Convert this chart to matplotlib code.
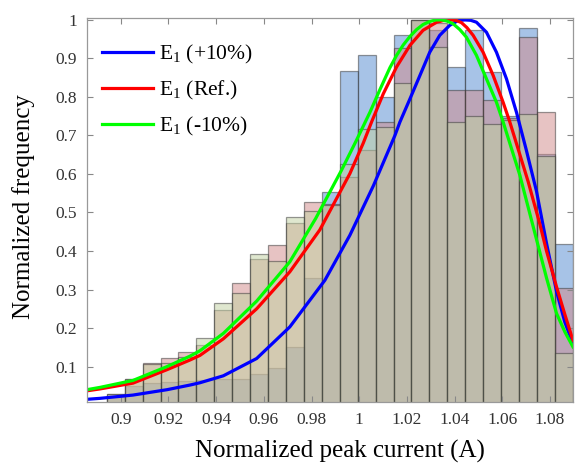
import matplotlib
matplotlib.use("Agg")
import matplotlib.pyplot as plt
import numpy as np

plt.rcParams['font.family'] = ['Liberation Serif', 'DejaVu Serif']
plt.rcParams['mathtext.fontset'] = 'custom'
plt.rcParams['mathtext.rm'] = 'Liberation Serif'

# histogram bins (uniform)
bin_start = 0.8941
bin_width = 0.00752

# normalized histogram heights, one per bin
hist_plus = [0.020, 0.050, 0.058, 0.060, 0.062, 0.064, 0.067, 0.068, 0.080, 0.096,
             0.151, 0.331, 0.552, 0.868, 0.910, 0.800, 0.962, 1.000, 0.974, 0.878,
             0.974, 0.865, 0.750, 0.978, 0.653, 0.418]
hist_ref = [0.030, 0.069, 0.108, 0.121, 0.138, 0.155, 0.246, 0.318, 0.380, 0.415,
            0.473, 0.526, 0.522, 0.591, 0.662, 0.735, 0.926, 1.000, 0.991, 0.818,
            0.818, 0.792, 0.745, 0.955, 0.760, 0.305]
hist_minus = [0.030, 0.067, 0.106, 0.110, 0.125, 0.175, 0.264, 0.290, 0.392, 0.374,
              0.489, 0.503, 0.520, 0.627, 0.718, 0.722, 0.835, 1.000, 0.929, 0.734,
              0.751, 0.731, 0.740, 0.755, 0.647, 0.134]

# fitted curves
plus_x = [0.8858, 0.8913, 0.9051, 0.9194, 0.9290, 0.9332, 0.9430, 0.9570, 0.9709,
          0.9856, 0.9961, 1.0060, 1.0150, 1.0171, 1.0213, 1.0255, 1.0296, 1.0338,
          1.0380, 1.0414, 1.0443, 1.0468, 1.0492, 1.0534, 1.0576, 1.0618, 1.0660,
          1.0700, 1.0744, 1.0786, 1.0828, 1.0863, 1.0897]
plus_y = [0.015, 0.0175, 0.026, 0.040, 0.052, 0.058, 0.076, 0.121, 0.203,
          0.324, 0.441, 0.570, 0.700, 0.735, 0.795, 0.856, 0.916, 0.960,
          0.986, 0.998, 1.000, 0.999, 0.994, 0.968, 0.916, 0.847, 0.760,
          0.665, 0.555, 0.420, 0.295, 0.215, 0.160]
ref_x = [0.8858, 0.8913, 0.9051, 0.9194, 0.9290, 0.9332, 0.9430, 0.9570, 0.9709,
         0.9835, 0.9961, 1.0017, 1.0052, 1.0101, 1.0157, 1.0213, 1.0268, 1.0325,
         1.0351, 1.0380, 1.0405, 1.0429, 1.0452, 1.0478, 1.0520, 1.0562, 1.0604,
         1.0632, 1.0709, 1.0758, 1.0786, 1.0828, 1.0863, 1.0897]
ref_y = [0.037, 0.042, 0.057, 0.092, 0.117, 0.129, 0.172, 0.250, 0.346,
         0.455, 0.601, 0.680, 0.735, 0.808, 0.878, 0.934, 0.973, 0.994,
         0.998, 1.000, 0.999, 0.993, 0.980, 0.960, 0.916, 0.856, 0.786,
         0.735, 0.580, 0.470, 0.400, 0.307, 0.235, 0.168]
minus_x = [0.8858, 0.8913, 0.9051, 0.9194, 0.9290, 0.9332, 0.9430, 0.9570, 0.9709,
           0.9818, 0.9926, 0.9989, 1.0045, 1.0087, 1.0129, 1.0157, 1.0185, 1.0213,
           1.0241, 1.0268, 1.0296, 1.0322, 1.0346, 1.0368, 1.0394, 1.0422, 1.0450,
           1.0492, 1.0534, 1.0576, 1.0604, 1.0674, 1.0744, 1.0786, 1.0828, 1.0863,
           1.0897]
minus_y = [0.040, 0.046, 0.064, 0.100, 0.127, 0.141, 0.186, 0.270, 0.372,
           0.485, 0.610, 0.688, 0.760, 0.819, 0.876, 0.908, 0.935, 0.957,
           0.975, 0.988, 0.996, 1.000, 1.000, 0.997, 0.990, 0.975, 0.955,
           0.908, 0.847, 0.786, 0.735, 0.597, 0.430, 0.330, 0.238, 0.190,
           0.151]

labels = ['E$_{1}$ (+10%)', 'E$_{1}$ (Ref.)', 'E$_{1}$ (-10%)']

edges = bin_start + bin_width * np.arange(len(hist_ref))

fig = plt.figure(figsize=(5.81, 4.72), dpi=100)
ax = fig.add_axes([0.1497, 0.1483, 0.8365, 0.8136])

edge_c = (0.2, 0.2, 0.2, 0.55)
ax.bar(edges, hist_plus, width=bin_width, align='edge', color=(0.318, 0.537, 0.82),
       alpha=0.5, edgecolor=edge_c, linewidth=0.9)
ax.bar(edges, hist_ref, width=bin_width, align='edge', color=(0.82, 0.537, 0.537),
       alpha=0.5, edgecolor=edge_c, linewidth=0.9)
ax.bar(edges, hist_minus, width=bin_width, align='edge', color=(0.757, 0.82, 0.63),
       alpha=0.5, edgecolor=edge_c, linewidth=0.9)

ax.plot(plus_x, plus_y, color='#0000ff', lw=2.3, label=labels[0], solid_joinstyle='round')
ax.plot(ref_x, ref_y, color='#ff0000', lw=2.3, label=labels[1], solid_joinstyle='round')
ax.plot(minus_x, minus_y, color='#00ff00', lw=2.3, label=labels[2], solid_joinstyle='round')

ax.set_xlim(0.8858, 1.0897)
ax.set_ylim(0.008, 1.005)
ax.set_xticks([0.9, 0.92, 0.94, 0.96, 0.98, 1.0, 1.02, 1.04, 1.06, 1.08])
ax.set_xticklabels(['0.9', '0.92', '0.94', '0.96', '0.98', '1', '1.02', '1.04', '1.06', '1.08'])
ax.set_yticks([0.1, 0.2, 0.3, 0.4, 0.5, 0.6, 0.7, 0.8, 0.9, 1.0])
ax.set_yticklabels(['0.1', '0.2', '0.3', '0.4', '0.5', '0.6', '0.7', '0.8', '0.9', '1'])
ax.tick_params(direction='in', length=4, width=0.8, color='#888888', labelsize=12.5,
               labelcolor='#333333', top=True, right=True, pad=7)
for s in ax.spines.values():
    s.set_color('#999999')
    s.set_linewidth(0.9)

ax.set_xlabel('Normalized peak current (A)', fontsize=18)
ax.set_ylabel('Normalized frequency', fontsize=18)
ax.xaxis.set_label_coords(0.5195, -0.10)
ax.yaxis.set_label_coords(-0.106, 0.508)

ax.legend(loc='upper left', frameon=False, fontsize=15.5, handlelength=2.35,
          handletextpad=0.3, labelspacing=0.6, borderaxespad=0.3,
          bbox_to_anchor=(0.0, 0.975))

fig.savefig('out.png', dpi=100)
